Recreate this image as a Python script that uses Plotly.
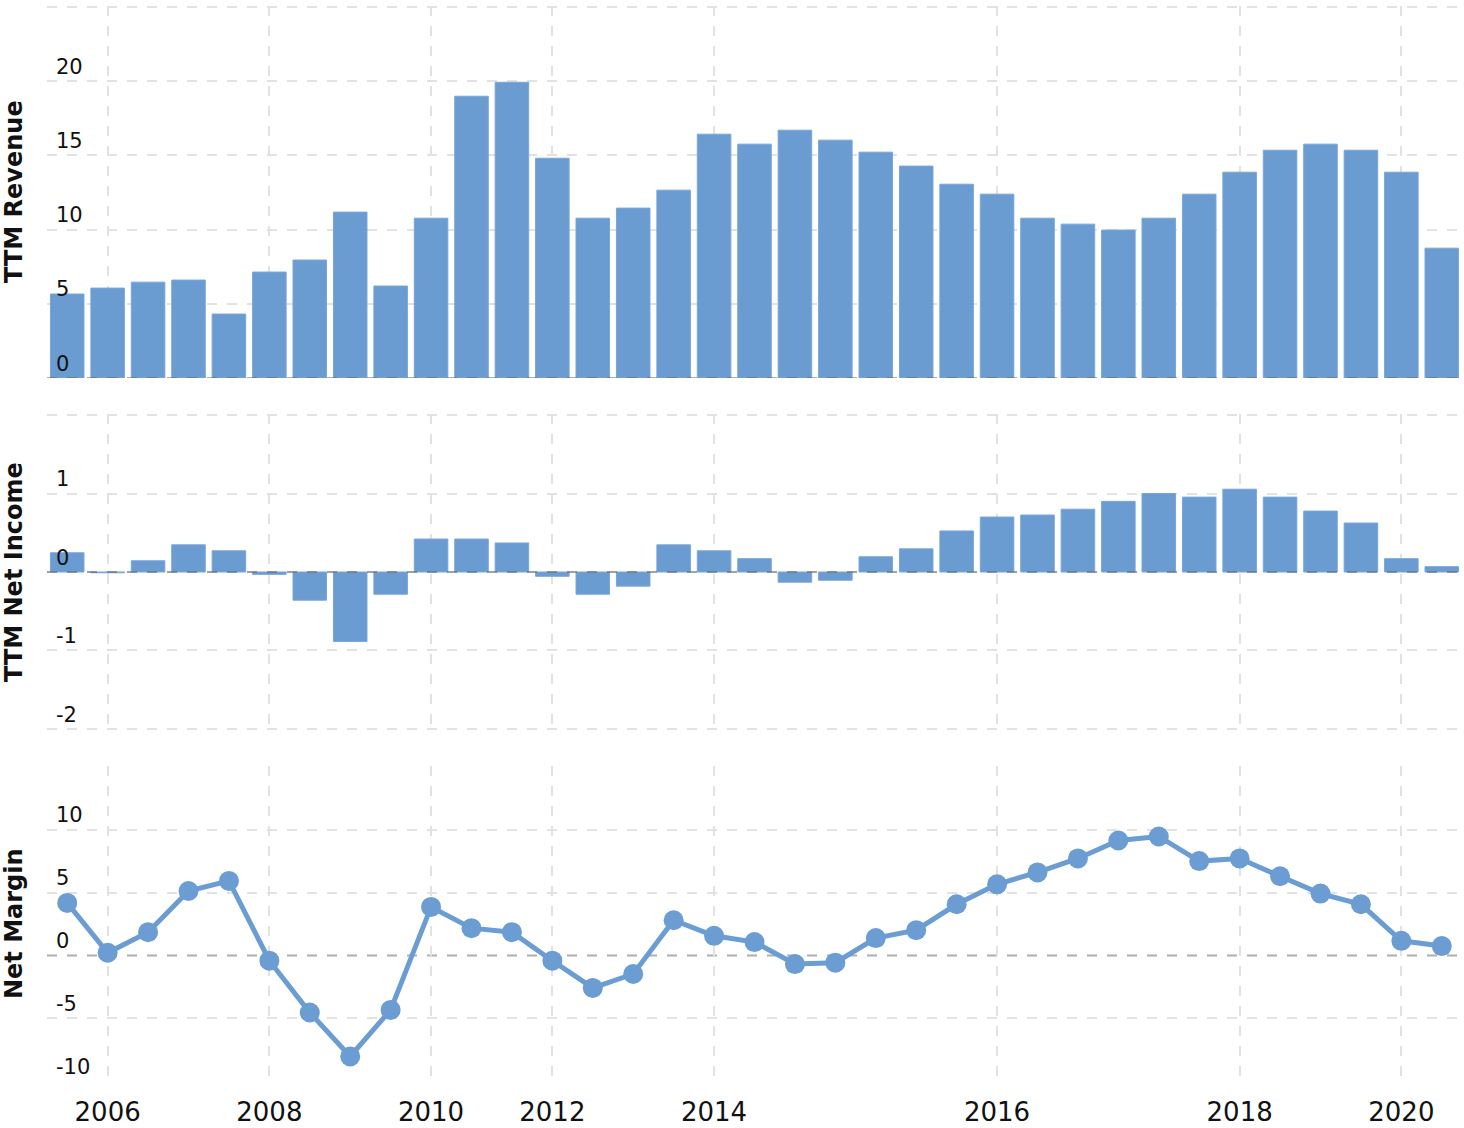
import plotly.graph_objects as go

# ---- data ----
revenue = [5.66, 6.06, 6.46, 6.6, 4.31, 7.14, 7.95, 11.18, 6.2, 10.77,
           18.99, 19.93, 14.81, 10.77, 11.45, 12.66, 16.43, 15.76, 16.7, 16.03,
           15.22, 14.28, 13.06, 12.39, 10.77, 10.37, 9.97, 10.77, 12.39, 13.87,
           15.35, 15.76, 15.35, 13.87, 8.75]
net_income = [0.245, -0.01, 0.143, 0.346, 0.27, -0.03, -0.359, -0.886, -0.283, 0.42,
              0.42, 0.37, -0.055, -0.283, -0.18, 0.346, 0.27, 0.17, -0.13, -0.105,
              0.194, 0.295, 0.523, 0.70, 0.726, 0.80, 0.90, 1.0, 0.954, 1.055,
              0.954, 0.776, 0.624, 0.17, 0.068]
net_margin = [4.18, 0.21, 1.85, 5.13, 5.93, -0.42, -4.55, -8.04, -4.34, 3.86,
              2.17, 1.85, -0.42, -2.59, -1.48, 2.8, 1.56, 1.06, -0.69, -0.58,
              1.38, 2.01, 4.07, 5.66, 6.61, 7.72, 9.15, 9.47, 7.51, 7.72,
              6.30, 4.92, 4.07, 1.16, 0.74]
periods = list(range(len(revenue)))
year_tick_pos = [1, 5, 9, 12, 16, 23, 29, 33]
year_tick_text = ["2006", "2008", "2010", "2012", "2014", "2016", "2018", "2020"]

rev_ticks = [0, 5, 10, 15, 20, 25]
rev_tick_text = ["0", "5", "10", "15", "20", ""]
ni_ticks = [-2, -1, 0, 1, 2]
ni_tick_text = ["-2", "-1", "0", "1", ""]
nm_ticks = [-10, -5, 0, 5, 10, 15]
nm_tick_text = ["-10", "-5", "0", "5", "10", ""]
nm_grid = [-10, -5, 5, 10, 15]

# ---- styles ----
BAR = "#6a9bd1"
EDGE = "#79a6d8"
LINE = "#6b9dd3"
GRID = "#e2e2e2"
ZERO = "rgba(95,95,95,0.5)"
FONT = "Verdana, DejaVu Sans, sans-serif"

W, H = 1464, 1128
ML, MR, MT, MB = 47, 2, 6, 46
plot_h = H - MT - MB


def dom(top_px, bot_px):
    return [(H - MB - bot_px) / plot_h, (H - MB - top_px) / plot_h]


d1 = dom(6, 378)
d2 = dom(414, 730)
d3 = dom(766, 1082)

fig = go.Figure()
fig.add_trace(go.Bar(x=periods, y=revenue, width=0.83,
                     marker=dict(color=BAR, line=dict(color=EDGE, width=1)),
                     xaxis="x", yaxis="y", hoverinfo="x+y"))
fig.add_trace(go.Bar(x=periods, y=net_income, width=0.83,
                     marker=dict(color=BAR, line=dict(color=EDGE, width=1)),
                     xaxis="x2", yaxis="y2", hoverinfo="x+y"))
fig.add_trace(go.Scatter(x=periods, y=net_margin, mode="lines+markers",
                         line=dict(color=LINE, width=5),
                         marker=dict(color=LINE, size=20),
                         xaxis="x3", yaxis="y3"))
# invisible companion so the label-only overlay axis is drawn
fig.add_trace(go.Scatter(x=periods, y=net_margin, mode="markers",
                         marker=dict(opacity=0, size=1), hoverinfo="skip",
                         xaxis="x3", yaxis="y4"))

xcommon = dict(range=[-0.5, 34.5], tickmode="array", tickvals=year_tick_pos,
               showgrid=True, gridcolor=GRID, gridwidth=2, griddash="10px,10px",
               zeroline=False, showline=False, ticks="")
ycommon = dict(showgrid=True, gridcolor=GRID, gridwidth=2, griddash="10px,10px",
               zeroline=False, showline=False, ticks="",
               ticklabelposition="inside top", ticklabelstandoff=6,
               tickfont=dict(family=FONT, size=21, color="#111"))

fig.update_layout(
    width=W, height=H,
    margin=dict(l=ML, r=MR, t=MT, b=MB, pad=0),
    paper_bgcolor="white", plot_bgcolor="white",
    showlegend=False,
    font=dict(family=FONT, color="#111"),
    xaxis=dict(**xcommon, anchor="y", showticklabels=False, ticktext=year_tick_text),
    xaxis2=dict(**xcommon, anchor="y2", matches="x", showticklabels=False, ticktext=year_tick_text),
    xaxis3=dict(**xcommon, anchor="y3", matches="x", showticklabels=True, ticktext=year_tick_text,
                tickfont=dict(family=FONT, size=26, color="#111"), ticklabelstandoff=12),
    yaxis=dict(**ycommon, domain=d1, range=[0, 25.07], tickvals=rev_ticks, ticktext=rev_tick_text, anchor="x"),
    yaxis2=dict(**ycommon, domain=d2, range=[-2.013, 2.013], tickvals=ni_ticks, ticktext=ni_tick_text, anchor="x2"),
    # grid-only axis for the net-margin panel (zero handled by the darker reference line)
    yaxis3=dict(showgrid=True, gridcolor=GRID, gridwidth=2, griddash="10px,10px",
                zeroline=False, showline=False, ticks="", showticklabels=False,
                domain=d3, range=[-10.08, 15.08], tickmode="array", tickvals=nm_grid, anchor="x3"),
    # label-only axis overlaying it
    yaxis4=dict(overlaying="y3", side="left", anchor="x3", range=[-10.08, 15.08],
                tickmode="array", tickvals=nm_ticks, ticktext=nm_tick_text,
                showgrid=False, zeroline=False, showline=False, ticks="",
                ticklabelposition="inside top", ticklabelstandoff=6,
                tickfont=dict(family=FONT, size=21, color="#111")),
)

# zero reference lines
for xr, yr, layer in [("x domain", "y", "above"), ("x2 domain", "y2", "above"), ("x3 domain", "y3", "below")]:
    fig.add_shape(type="line", xref=xr, yref=yr, x0=0, x1=1, y0=0, y1=0,
                  line=dict(color=ZERO, width=2, dash="10px,10px"), layer=layer)

# axis titles
title_x = (14 - ML) / (W - ML - MR)
for text, d in [("TTM Revenue", d1), ("TTM Net Income", d2), ("Net Margin", d3)]:
    fig.add_annotation(text="<b>%s</b>" % text, xref="paper", yref="paper",
                       x=title_x, y=(d[0] + d[1]) / 2, xanchor="center", yanchor="middle",
                       textangle=-90, showarrow=False,
                       font=dict(family=FONT, size=24, color="#111"))

fig.write_html("out.html")
